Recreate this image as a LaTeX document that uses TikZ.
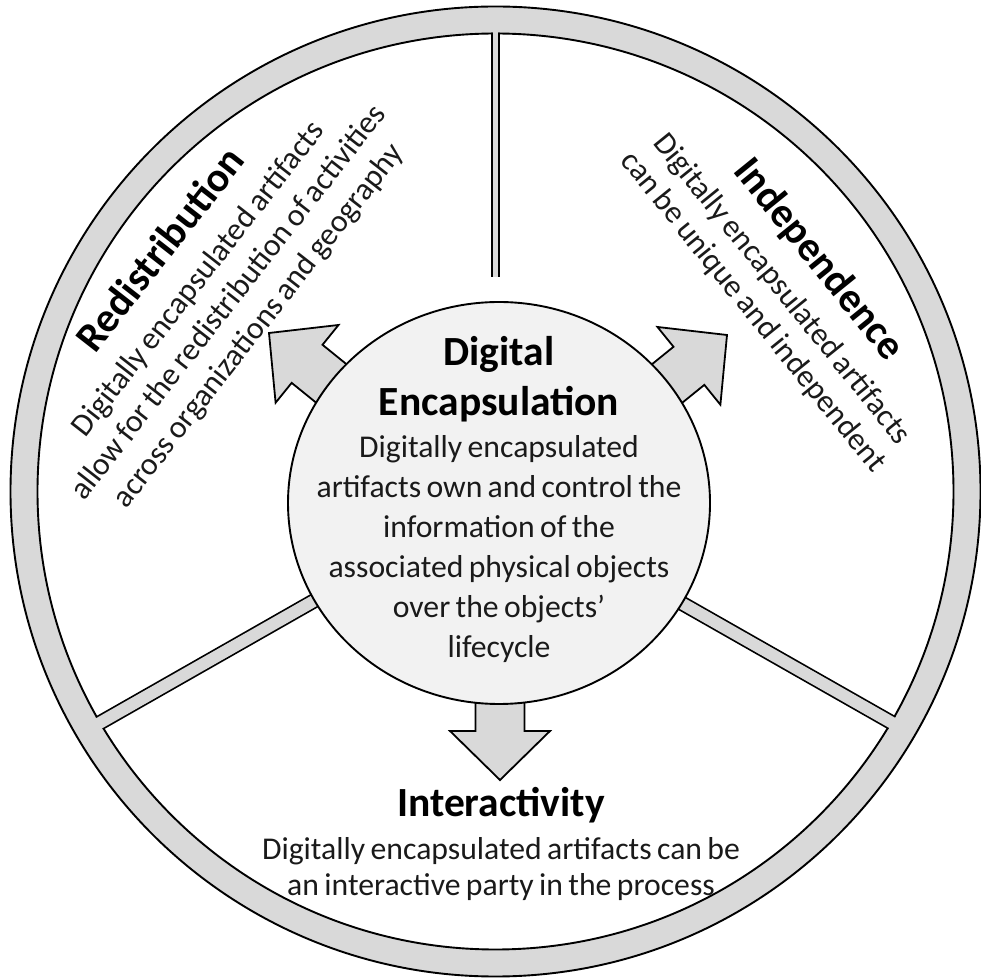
\documentclass[tikz,border=0pt]{standalone}
\usepackage{fontspec}
\setmainfont{Carlito}[WordSpace=0.75]
\newcommand\bodyfont{\fontsize{31.7}{40}\selectfont}
\newcommand\titlefont{\fontsize{41.5}{48}\selectfont\bfseries}
\definecolor{ringgray}{HTML}{D9D9D9}
\definecolor{coregray}{HTML}{F2F2F2}
\definecolor{inkcol}{HTML}{1A1A1A}
\begin{document}
\begin{tikzpicture}[x=1pt,y=1pt,
  edge/.style={draw=black, line width=1.9},
  bodytext/.style={font=\bodyfont, text=inkcol, inner sep=0pt, anchor=base},
  titletext/.style={font=\titlefont, text=black, inner sep=0pt, anchor=base},
  blockarrow/.style={fill=ringgray, draw=black, line width=1.8, line join=miter}]
\useasboundingbox (0,0) rectangle (981,977);

\coordinate (O) at (495.5,485.5);
\coordinate (C) at (499,474);

% outer gray ring
\fill[ringgray, even odd rule] (O) circle (485) (O) circle (458);
\draw[edge] (O) circle (485) (O) circle (458);

% divider bars between the three sectors
\coordinate (topin)  at (495.5,700);
\coordinate (topout) at (495.5,965);
\coordinate (lftin)  at (420,436.5);
\coordinate (lftout) at (55,228.6);
\coordinate (rgtin)  at (575,434.5);
\coordinate (rgtout) at (940,226.9);
\begin{scope}
  \clip (O) circle (458.9);
  \draw[black, line width=9.0] (topin) -- (topout);
  \draw[black, line width=15.2] (lftin) -- (lftout);
  \draw[black, line width=15.2] (rgtin) -- (rgtout);
\end{scope}
\begin{scope}
  \clip (O) circle (460);
  \draw[ringgray, line width=5.6] (topin) -- (topout);
  \draw[ringgray, line width=11.8] (lftin) -- (lftout);
  \draw[ringgray, line width=11.8] (rgtin) -- (rgtout);
\end{scope}

% block arrows leaving the core
\coordinate (tipdown)  at (500,197);
\coordinate (tipleft)  at (269,644);
\coordinate (tipright) at (727,642);
\foreach \tip/\ang in {tipdown/-90, tipleft/141, tipright/39}{
  \begin{scope}[shift={(\tip)}, rotate=\ang]
    \draw[blockarrow] (0,0) -- (-49,50) -- (-49,24.5) -- (-130,24.5)
      -- (-130,-24.5) -- (-49,-24.5) -- (-49,-50) -- cycle;
  \end{scope}
}

% core
\fill[coregray] (C) ellipse [x radius=211, y radius=201];
\draw[edge] (C) ellipse [x radius=211, y radius=201];

\node[titletext] (coreT1) at (499,611) {Digital};
\node[titletext] (coreT2) at (499,561) {Encapsulation};
\node[bodytext] (core1) at (499,519) {Digitally encapsulated};
\node[bodytext] (core2) at (499,479) {artifacts own and control the};
\node[bodytext] (core3) at (499,439) {information of the};
\node[bodytext] (core4) at (499,399) {associated physical objects};
\node[bodytext] (core5) at (499,359) {over the objects’};
\node[bodytext] (core6) at (499,319) {lifecycle};

% upper left sector
\begin{scope}[shift={(171,719.5)}, rotate=52, transform shape]
  \node[titletext] (redisT) at (0,0) {Redistribution};
  \node[bodytext] (redis1) at (0,-44) {Digitally encapsulated artifacts};
  \node[bodytext] (redis2) at (0,-82) {allow for the redistribution of activities};
  \node[bodytext] (redis3) at (0,-120) {across organizations and geography};
\end{scope}

% upper right sector
\begin{scope}[shift={(809.3,710.2)}, rotate=-51, transform shape]
  \node[titletext] (indepT) at (0,0) {Independence};
  \node[bodytext] (indep1) at (0,-44) {Digitally encapsulated artifacts};
  \node[bodytext] (indep2) at (0,-81) {can be unique and independent};
\end{scope}

% lower sector
\node[titletext] (interT) at (501,161) {Interactivity};
\node[bodytext] (inter1) at (501,118) {Digitally encapsulated artifacts can be};
\node[bodytext] (inter2) at (501,82) {an interactive party in the process};
\end{tikzpicture}
\end{document}
